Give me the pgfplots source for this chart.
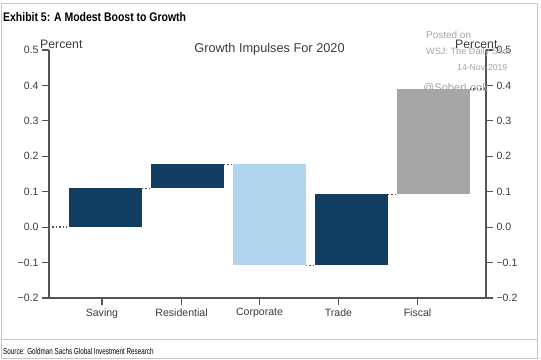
\documentclass[border=0pt]{standalone}
\usepackage{pgfplots}
\pgfplotsset{compat=1.18}
\usepackage{fontspec}
\setmainfont{Liberation Sans}
\newfontfamily\condfont[FakeStretch=0.84]{Liberation Sans}
\newfontfamily\srcfont[FakeStretch=0.72]{Liberation Sans}
\definecolor{navy}{RGB}{18,61,99}
\definecolor{lightblue}{RGB}{178,213,238}
\definecolor{bargray}{RGB}{166,166,166}
\definecolor{axisgray}{RGB}{85,85,85}
\definecolor{labelgray}{RGB}{60,60,60}
\definecolor{wmgray}{RGB}{165,165,165}
\begin{document}
\begin{tikzpicture}[x=1bp,y=1bp]
\useasboundingbox (0,0) rectangle (541,359);
\fill[white] (0,0) rectangle (541,359);
\draw[gray!45, line width=0.8bp] (1,1) rectangle (537.5,356);
\draw[gray!45, line width=0.8bp] (1,20) -- (537.5,20);
\node[anchor=base west, inner sep=0pt] at (3,337.5) {\condfont\bfseries\fontsize{12.5}{14}\selectfont Exhibit 5: A Modest Boost to Growth};
\node[anchor=base west, inner sep=0pt] at (3,5) {\srcfont\fontsize{8.8}{10}\selectfont Source: Goldman Sachs Global Investment Research};

\pgfplotsset{
  common/.style={
    at={(49bp,61bp)}, anchor=south west,
    scale only axis, width=437bp, height=248bp,
    xmin=-0.689, xmax=4.64, ymin=-0.2, ymax=0.5,
    axis line style={draw=axisgray, line width=1.3bp},
    tick style={draw=axisgray, line width=1.1bp},
    tick align=outside, major tick length=7bp,
    ytick={-0.2,-0.1,0,0.1,0.2,0.3,0.4,0.5},
    yticklabels={−0.2,−0.1,0.0,0.1,0.2,0.3,0.4,0.5},
    ticklabel style={font=\fontsize{10.6}{12}\selectfont, text=labelgray},
    clip=false,
  },
  connector/.style={draw=axisgray, line width=1.3bp, dash pattern=on 1.4bp off 2bp},
}
\begin{axis}[common,
  axis x line*=bottom, axis y line*=left,
  xtick={-0.043,0.927,1.878,2.841,3.805},
  xticklabels={Saving,Residential,Corporate,Trade,Fiscal},
]
% waterfall bars: (left,low) (right,low) (right,high) (left,high)
\addplot[fill=navy, draw=none] coordinates {(-0.445,0) (0.445,0) (0.445,0.11) (-0.445,0.11)} -- cycle;
\addplot[fill=navy, draw=none] coordinates {(0.555,0.11) (1.445,0.11) (1.445,0.177) (0.555,0.177)} -- cycle;
\addplot[fill=lightblue, draw=none] coordinates {(1.555,-0.108) (2.445,-0.108) (2.445,0.177) (1.555,0.177)} -- cycle;
\addplot[fill=navy, draw=none] coordinates {(2.555,-0.108) (3.445,-0.108) (3.445,0.093) (2.555,0.093)} -- cycle;
\addplot[fill=bargray, draw=none] coordinates {(3.555,0.093) (4.445,0.093) (4.445,0.39) (3.555,0.39)} -- cycle;
% dotted connectors
\addplot[connector] coordinates {(-0.689,0) (-0.445,0)};
\addplot[connector] coordinates {(0.445,0.11) (0.555,0.11)};
\addplot[connector] coordinates {(1.445,0.177) (1.555,0.177)};
\addplot[connector] coordinates {(2.445,-0.108) (2.555,-0.108)};
\addplot[connector] coordinates {(3.445,0.093) (3.555,0.093)};
\addplot[connector] coordinates {(4.445,0.39) (4.64,0.39)};
\end{axis}
\begin{axis}[common,
  axis y line*=right, axis x line=none,
]
\end{axis}

\node[anchor=base west, inner sep=0pt, text=labelgray] at (40,311) {\fontsize{12.3}{14}\selectfont Percent};
\node[anchor=base, inner sep=0pt, text=labelgray] at (269.5,307) {\fontsize{12.8}{15}\selectfont Growth Impulses For 2020};
% watermark
\node[anchor=base west, inner sep=0pt, text=wmgray] at (426,321) {\fontsize{10}{12}\selectfont Posted on};
\node[anchor=base west, inner sep=0pt, text=wmgray] at (426,305) {\fontsize{9.2}{11}\selectfont WSJ: The Daily Shot};
\node[anchor=base west, inner sep=0pt, text=wmgray] at (457,289) {\fontsize{8.7}{10}\selectfont 14-Nov-2019};
\node[anchor=base west, inner sep=0pt, text=wmgray] at (423,268) {\fontsize{11.1}{13}\selectfont @SoberLook};
\node[anchor=base west, inner sep=0pt, text=labelgray] at (455,311) {\fontsize{12.3}{14}\selectfont Percent};
\end{tikzpicture}
\end{document}
